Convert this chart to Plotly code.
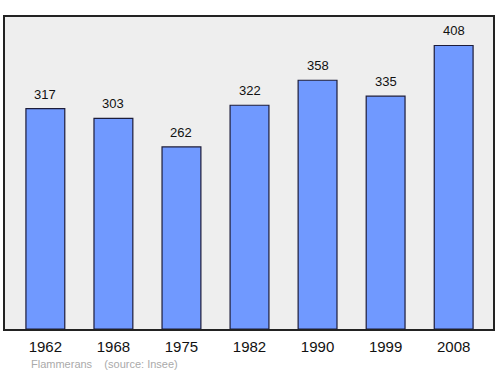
import plotly.graph_objects as go

years = ["1962", "1968", "1975", "1982", "1990", "1999", "2008"]
population = [317, 303, 262, 322, 358, 335, 408]
footer = "Flammerans    (source: Insee)"

fig = go.Figure()
fig.add_trace(go.Bar(
    x=list(range(len(years))), y=population,
    width=0.571,
    marker=dict(color="#7099ff", line=dict(color="#1c1c3a", width=1.2)),
    hoverinfo="skip",
))
for i, v in enumerate(population):
    fig.add_annotation(x=i, y=v, text=str(v), showarrow=False,
                       yanchor="bottom", yshift=5,
                       font=dict(family="Liberation Sans, Arial", size=13, color="#111111"))

fig.add_annotation(xref="paper", yref="paper", x=0.05, y=-0.113, xanchor="left", yanchor="middle",
                   text=footer, showarrow=False,
                   font=dict(family="Liberation Sans, Arial", size=11, color="#aaaaaa"))

fig.update_layout(
    width=500, height=374,
    margin=dict(l=5, r=5, t=17, b=45),
    paper_bgcolor="white", plot_bgcolor="#eeeeee",
    showlegend=False,
    xaxis=dict(range=[-0.593, 6.578], tickmode="array", tickvals=list(range(len(years))),
               ticktext=years, showgrid=False, zeroline=False, showline=True, mirror=True,
               linecolor="#222222", linewidth=1.5, ticks="outside", ticklen=3,
               tickcolor="rgba(0,0,0,0)",
               tickfont=dict(family="Liberation Sans, Arial", size=15, color="#111111")),
    yaxis=dict(range=[0, 449], showgrid=False, zeroline=False, showticklabels=False,
               showline=True, mirror=True, linecolor="#222222", linewidth=1.5, ticks=""),
)
fig.write_html("out.html")
